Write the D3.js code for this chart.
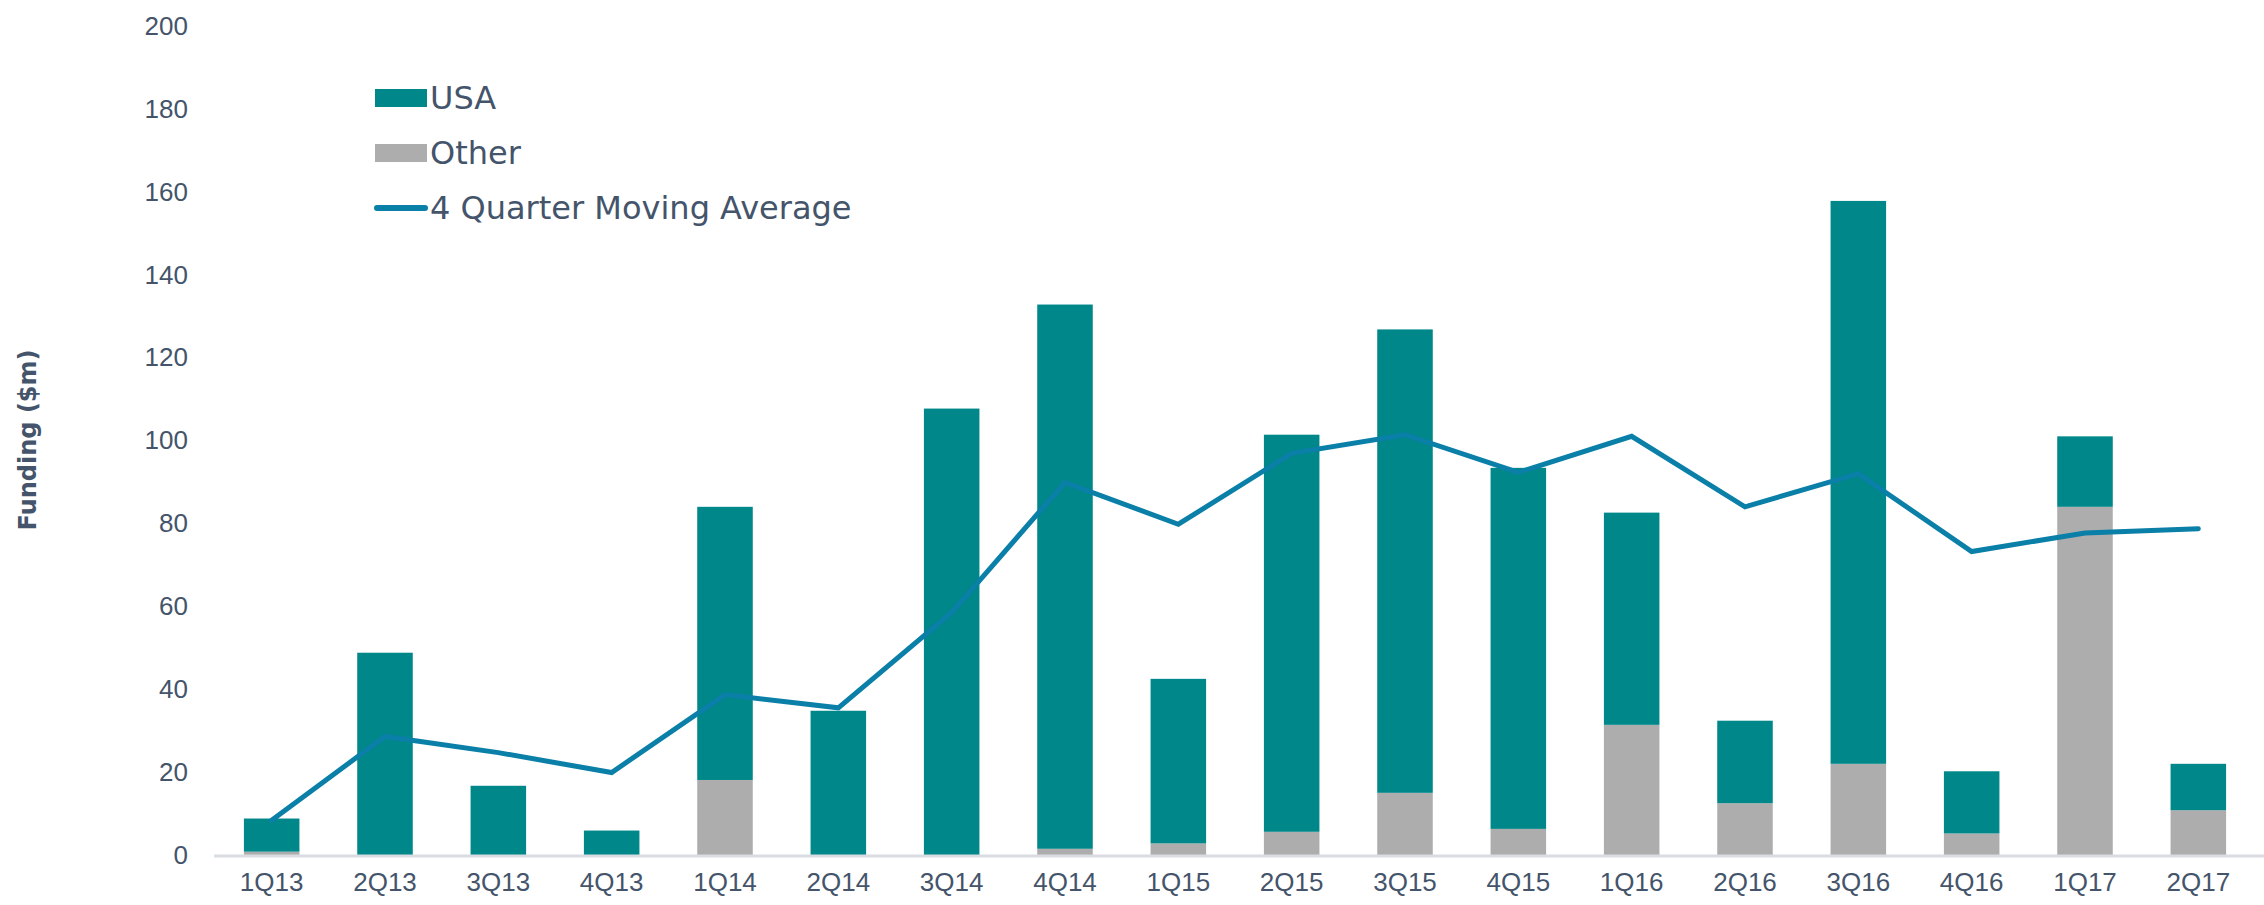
<!DOCTYPE html>
<html lang="en">
<head>
  <meta charset="UTF-8">
  <title>Funding by quarter</title>
  <script src="https://d3js.org/d3.v7.min.js"></script>
  <style>
    body { margin: 0; background: #fff; }
    svg { display: block; font-family: "DejaVu Sans", Verdana, sans-serif; }
    .tick text { fill: #44546A; font-size: 26px; }
  </style>
</head>
<body>
  <svg id="chart"></svg>

  <script>
    // values ($m)
    const quarters = ["1Q13", "2Q13", "3Q13", "4Q13", "1Q14", "2Q14", "3Q14", "4Q14", "1Q15",
                      "2Q15", "3Q15", "4Q15", "1Q16", "2Q16", "3Q16", "4Q16", "1Q17", "2Q17"];
    const other = [0.8, 0, 0, 0, 18.1, 0, 0, 1.5, 2.8, 5.6, 15.0, 6.3, 31.4, 12.5, 22.0, 5.2, 84.0, 10.8];
    const usa   = [8.0, 48.8, 16.7, 5.9, 65.9, 34.8, 107.7, 131.3, 39.7, 95.8, 111.8, 87.1, 51.2, 19.9, 135.8, 15.0, 17.0, 11.2];
    const movingAvg = [8.4, 28.6, 24.7, 19.9, 38.7, 35.5, 58.5, 89.9, 79.8, 96.9, 101.4, 92.3, 101.0, 84.0, 92.0, 73.2, 77.7, 78.7];
    const yTicks = [0, 20, 40, 60, 80, 100, 120, 140, 160, 180, 200];

    const width = 2264;
    const height = 905;
    const margin = { top: 26, right: 9, bottom: 50, left: 215 };

    const teal = "#00878A";
    const grey = "#ADADAD";
    const lineColor = "#0A7FA8";
    const textColor = "#44546A";

    const svg = d3.select("#chart")
      .attr("width", width)
      .attr("height", height);

    const x = d3.scaleBand()
      .domain(quarters)
      .range([margin.left, width - margin.right])
      .paddingInner(0.51)
      .paddingOuter(0.255);

    const y = d3.scaleLinear()
      .domain([0, 200])
      .range([height - margin.bottom, margin.top]);

    // Y axis (labels only)
    svg.append("g")
      .attr("transform", `translate(${margin.left}, 0)`)
      .call(d3.axisLeft(y).tickValues(yTicks).tickSize(0).tickPadding(27))
      .call(g => g.select(".domain").remove());

    // stacked bars
    const rows = quarters.map((q, i) => ({ q, other: other[i], usa: usa[i] }));
    const stack = d3.stack().keys(["other", "usa"])(rows);
    const colors = { other: grey, usa: teal };

    svg.append("g")
      .selectAll("g")
      .data(stack)
      .join("g")
      .attr("fill", d => colors[d.key])
      .selectAll("rect")
      .data(d => d)
      .join("rect")
      .attr("x", d => x(d.data.q))
      .attr("y", d => y(d[1]))
      .attr("width", x.bandwidth())
      .attr("height", d => y(d[0]) - y(d[1]));

    // baseline
    svg.append("line")
      .attr("x1", margin.left - 1)
      .attr("x2", width)
      .attr("y1", y(0) + 1)
      .attr("y2", y(0) + 1)
      .attr("stroke", "#D9DCE1")
      .attr("stroke-width", 3);

    // X axis
    svg.append("g")
      .attr("transform", `translate(0, ${y(0)})`)
      .call(d3.axisBottom(x).tickSize(0).tickPadding(18))
      .call(g => g.select(".domain").remove());

    // moving average line
    const line = d3.line()
      .x((d, i) => x(quarters[i]) + x.bandwidth() / 2)
      .y(d => y(d));

    svg.append("path")
      .datum(movingAvg)
      .attr("fill", "none")
      .attr("stroke", lineColor)
      .attr("stroke-width", 5)
      .attr("stroke-linejoin", "miter")
      .attr("stroke-linecap", "round")
      .attr("d", line);

    // y title
    svg.append("text")
      .attr("transform", "translate(28, 440) rotate(-90)")
      .attr("text-anchor", "middle")
      .attr("dy", "0.35em")
      .attr("font-size", 24)
      .attr("font-weight", "bold")
      .attr("fill", textColor)
      .text("Funding ($m)");

    // legend
    const legend = svg.append("g").attr("transform", "translate(375, 98)");
    const items = [
      { label: "USA", type: "rect", color: teal },
      { label: "Other", type: "rect", color: grey },
      { label: "4 Quarter Moving Average", type: "line", color: lineColor }
    ];
    items.forEach((it, i) => {
      const g = legend.append("g").attr("transform", `translate(0, ${i * 55})`);
      if (it.type === "rect") {
        g.append("rect").attr("x", 0).attr("y", -9).attr("width", 52).attr("height", 18).attr("fill", it.color);
      } else {
        g.append("line").attr("x1", 2).attr("x2", 50).attr("y1", 0).attr("y2", 0)
          .attr("stroke", it.color).attr("stroke-width", 6).attr("stroke-linecap", "round");
      }
      g.append("text")
        .attr("x", 55)
        .attr("dy", "0.35em")
        .attr("font-size", 32)
        .attr("fill", textColor)
        .text(it.label);
    });
  </script>
</body>
</html>
